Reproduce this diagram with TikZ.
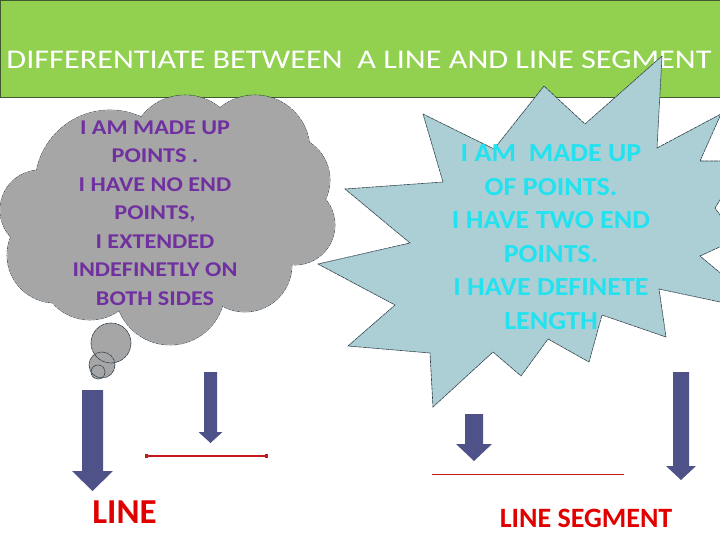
\documentclass[tikz,border=0pt]{standalone}
\usepackage{fontspec}
\setmainfont{Carlito}
\usetikzlibrary{arrows.meta}

\definecolor{bannergreen}{HTML}{92D050}
\definecolor{bannerline}{HTML}{3F5A2E}
\definecolor{cloudgray}{HTML}{A6A6A6}
\definecolor{starblue}{HTML}{ABCFD5}
\definecolor{edgedark}{HTML}{33434F}
\definecolor{cloudtext}{HTML}{7030A0}
\definecolor{startext}{HTML}{22E2F0}
\definecolor{arrowblue}{HTML}{4F5189}
\definecolor{labelred}{HTML}{E00000}
\definecolor{linered}{HTML}{C41A1A}

\tikzset{
  outline/.style={draw=edgedark, line width=0.6pt, dash pattern=on 4pt off 0.6pt},
  bubbletext/.style={align=center, inner sep=0pt},
  redlabel/.style={inner sep=0pt, text=labelred},
}

% downward block arrow: centre x, shaft half width, top, head start, head half width, tip
\newcommand{\blockdown}[6]{%
  \fill[arrowblue] (#1-#2,#3) -- (#1+#2,#3) -- (#1+#2,#4) -- (#1+#5,#4)
    -- (#1,#6) -- (#1-#5,#4) -- (#1-#2,#4) -- cycle;}

\begin{document}
\begin{tikzpicture}[x=1pt, y=-1pt]
  \useasboundingbox (0,0) rectangle (720,540);
  \clip (0,0) rectangle (720,540);

  % title banner
  \filldraw[fill=bannergreen, draw=bannerline, line width=0.8pt] (0,0) rectangle (720,97);
  \node (title) at (359,60) [inner sep=0pt, text=white, font=\fontsize{27}{30}\selectfont]
    {\scalebox{1.195}[1]{DIFFERENTIATE BETWEEN\ \ A LINE AND LINE SEGMENT}};

  % thought cloud
  \foreach \cx/\cy/\r in {40/210/40, 110/185/75, 185/150/55, 255/150/55, 285/180/45,
                          295/225/40, 245/265/47, 170/290/55, 90/270/50, 55/255/48}
    \draw[outline] (\cx,\cy) circle (\r);
  \foreach \cx/\cy/\r in {40/210/40, 110/185/75, 185/150/55, 255/150/55, 285/180/45,
                          295/225/40, 245/265/47, 170/290/55, 90/270/50, 55/255/48}
    \fill[cloudgray] (\cx,\cy) circle (\r-0.3);
  \fill[cloudgray] (170,215) circle (80);
  \fill[cloudgray] (255,215) circle (40);
  \foreach \cx/\cy/\r in {111/343/20, 102/365/13, 98/372/7}
    \fill[cloudgray] (\cx,\cy) circle (\r);
  \foreach \cx/\cy/\r in {111/343/20, 102/365/13, 98/372/7}
    \draw[outline] (\cx,\cy) circle (\r);
  \node (cloudtxt) at (155,213) [bubbletext, text=cloudtext,
      font=\bfseries\fontsize{21}{28.5}\selectfont\addfontfeatures{FakeStretch=1.15}]
    {I AM MADE UP\\POINTS .\\I HAVE NO END\\POINTS,\\I EXTENDED\\INDEFINETLY ON\\BOTH SIDES};

  % explosion star
  \filldraw[fill=starblue, outline]
    (662,56) -- (657,148) -- (721,114) -- (700,161) -- (744,161) -- (715,208)
    -- (737,239) -- (700,256) -- (767,312) -- (659,289) -- (666,337) -- (602,315)
    -- (589,362) -- (548,339) -- (521,376) -- (493,352) -- (433,407) -- (430,353)
    -- (348,346) -- (395,305) -- (318,264) -- (410,243) -- (345,189) -- (443,182)
    -- (423,114) -- (494,149) -- (544,86) -- (585,124) -- cycle;
  \node (startxt) at (551,237) [bubbletext, text=startext,
      font=\bfseries\fontsize{26}{33.5}\selectfont\addfontfeatures{FakeStretch=1.08}]
    {I AM\ \ MADE UP\\OF POINTS.\\I HAVE TWO END\\POINTS.\\I HAVE DEFINETE\\LENGTH};

  % block arrows
  \blockdown{92.5}{10.5}{390}{471}{20.5}{491}
  \blockdown{210.5}{6.5}{372}{432}{12}{443}
  \blockdown{474}{9}{414}{444}{18}{461}
  \blockdown{681}{8}{372}{466}{15}{480}

  % the line and the segment
  \coordinate (lineA) at (145,456);
  \coordinate (lineB) at (268,456);
  \draw[linered, line width=1.8pt, {Square[length=3pt,width=4pt]}-{Square[length=3pt,width=4pt]}] (lineA) -- (lineB);
  \coordinate (segA) at (432,474);
  \coordinate (segB) at (624,474);
  \draw[linered, line width=0.8pt] (segA) -- (segB);

  % labels
  \node (linelbl) at (124.5,512.5) [redlabel, font=\bfseries\fontsize{35}{38}\selectfont] {LINE};
  \node (seglbl) at (586,518.5) [redlabel, font=\bfseries\fontsize{28}{32}\selectfont] {LINE SEGMENT};
\end{tikzpicture}
\end{document}
